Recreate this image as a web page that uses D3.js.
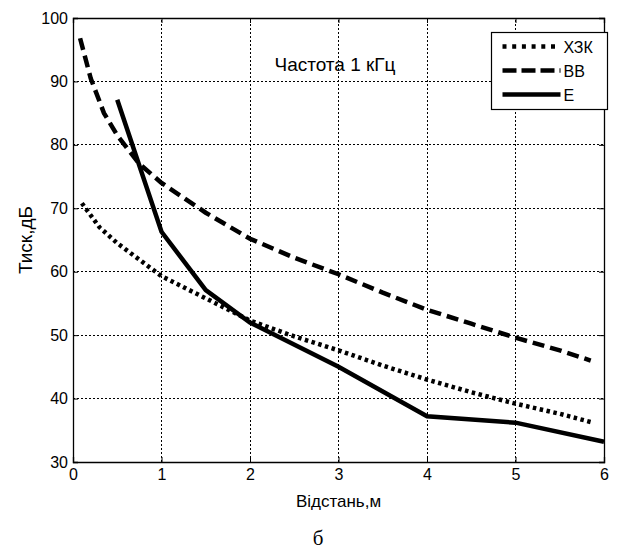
<!DOCTYPE html>
<html>
<head>
<meta charset="utf-8">
<script src="https://cdn.jsdelivr.net/npm/d3@7"></script>
<style>
  body { margin: 0; background: #fff; }
  text { font-family: "Liberation Sans", Arial, sans-serif; }
</style>
</head>
<body>
<script>
// values
const xTicks = [0, 1, 2, 3, 4, 5, 6];
const yTicks = [30, 40, 50, 60, 70, 80, 90, 100];

const hzkX = [0.1, 0.3, 0.5, 1, 1.5, 2, 2.5, 3, 3.5, 4, 4.5, 5, 5.5, 5.85];
const hzkY = [70.8, 67, 64.5, 59.3, 55.8, 52.3, 49.8, 47.6, 45.2, 43, 41, 39.2, 37.6, 36.3];

const vvX = [0.08, 0.2, 0.35, 0.5, 0.75, 1, 1.5, 2, 2.5, 3, 3.5, 4, 4.5, 5, 5.5, 5.85];
const vvY = [96.8, 90.5, 85, 81.5, 77, 74, 69.3, 65.2, 62.2, 59.6, 56.7, 54, 51.8, 49.6, 47.6, 46];

const eX = [0.5, 1, 1.5, 2, 3, 4, 5, 6];
const eY = [87.1, 66.3, 57.1, 52, 45, 37.2, 36.2, 33.2];

const seriesNames = ["ХЗК", "ВВ", "Е"];

const width = 618;
const height = 550;
const margin = { left: 73, right: 14, top: 18, bottom: 88 };

const x = d3.scaleLinear().domain([0, 6]).range([margin.left, width - margin.right]);
const y = d3.scaleLinear().domain([30, 100]).range([height - margin.bottom, margin.top]);

const svg = d3.select("body").append("svg")
    .attr("width", width)
    .attr("height", height);

// grid
const grid = svg.append("g")
    .attr("stroke", "#000")
    .attr("stroke-width", 1)
    .attr("stroke-dasharray", "2,2")
    .attr("shape-rendering", "crispEdges");
grid.selectAll(".gx")
    .data(xTicks.slice(1, -1))
    .join("line")
    .attr("x1", d => x(d)).attr("x2", d => x(d))
    .attr("y1", y(30)).attr("y2", y(100));
grid.selectAll(".gy")
    .data(yTicks.slice(1, -1))
    .join("line")
    .attr("y1", d => y(d)).attr("y2", d => y(d))
    .attr("x1", x(0)).attr("x2", x(6));

// axes
const xAxis = svg.append("g")
    .attr("transform", `translate(0,${y(30)})`)
    .call(d3.axisBottom(x).tickValues(xTicks).tickSize(-5).tickPadding(7).tickFormat(d3.format("d")));
const yAxis = svg.append("g")
    .attr("transform", `translate(${x(0)},0)`)
    .call(d3.axisLeft(y).tickValues(yTicks).tickSize(-5).tickPadding(5).tickFormat(d3.format("d")));
svg.append("g")
    .attr("transform", `translate(0,${y(100)})`)
    .call(d3.axisTop(x).tickValues(xTicks).tickSize(-5).tickFormat(""));
svg.append("g")
    .attr("transform", `translate(${x(6)},0)`)
    .call(d3.axisRight(y).tickValues(yTicks).tickSize(-5).tickFormat(""));

svg.selectAll(".domain").attr("stroke", "#000").attr("stroke-width", 1.3);
svg.selectAll(".tick line").attr("stroke", "#000");
[xAxis, yAxis].forEach(a => a.selectAll("text")
    .attr("font-size", 16)
    .attr("fill", "#000")
    .style("font-family", "'Liberation Sans', Arial, sans-serif"));

// lines
const line = d3.line().x(d => x(d[0])).y(d => y(d[1]));
const series = [
    { name: seriesNames[0], pts: d3.zip(hzkX, hzkY), dash: "3.5,3.5" },
    { name: seriesNames[1], pts: d3.zip(vvX, vvY), dash: "12,6" },
    { name: seriesNames[2], pts: d3.zip(eX, eY), dash: null }
];
svg.append("g")
    .selectAll("path")
    .data(series)
    .join("path")
    .attr("d", d => line(d.pts))
    .attr("fill", "none")
    .attr("stroke", "#000")
    .attr("stroke-width", 4.5)
    .attr("stroke-dasharray", d => d.dash);

// title inside plot
svg.append("text")
    .attr("x", 335).attr("y", 71)
    .attr("text-anchor", "middle")
    .attr("font-size", 19)
    .text("Частота 1 кГц");

// legend
const lg = svg.append("g").attr("transform", "translate(491.5,32.5)");
lg.append("rect")
    .attr("width", 116).attr("height", 77)
    .attr("fill", "#fff")
    .attr("stroke", "#000")
    .attr("stroke-width", 1.2);
const legendDash = ["4,5.7", "14,5", null];
const item = lg.selectAll(".item")
    .data(series)
    .join("g")
    .attr("transform", (d, i) => `translate(0,${14 + i * 24})`);
item.append("line")
    .attr("x1", 11).attr("x2", 69)
    .attr("stroke", "#000")
    .attr("stroke-width", 4.5)
    .attr("stroke-dasharray", (d, i) => legendDash[i]);
item.append("text")
    .attr("x", 72).attr("y", 6)
    .attr("font-size", 16)
    .text(d => d.name);

// axis labels
svg.append("text")
    .attr("x", x(3)).attr("y", 507)
    .attr("text-anchor", "middle")
    .attr("font-size", 17)
    .text("Відстань,м");
svg.append("text")
    .attr("transform", `translate(32,${y(65)}) rotate(-90)`)
    .attr("text-anchor", "middle")
    .attr("font-size", 19)
    .text("Тиск,дБ");
svg.append("text")
    .attr("x", 318).attr("y", 545)
    .attr("text-anchor", "middle")
    .attr("font-size", 21)
    .style("font-family", "'Liberation Serif', 'Times New Roman', serif")
    .text("б");
</script>
</body>
</html>
